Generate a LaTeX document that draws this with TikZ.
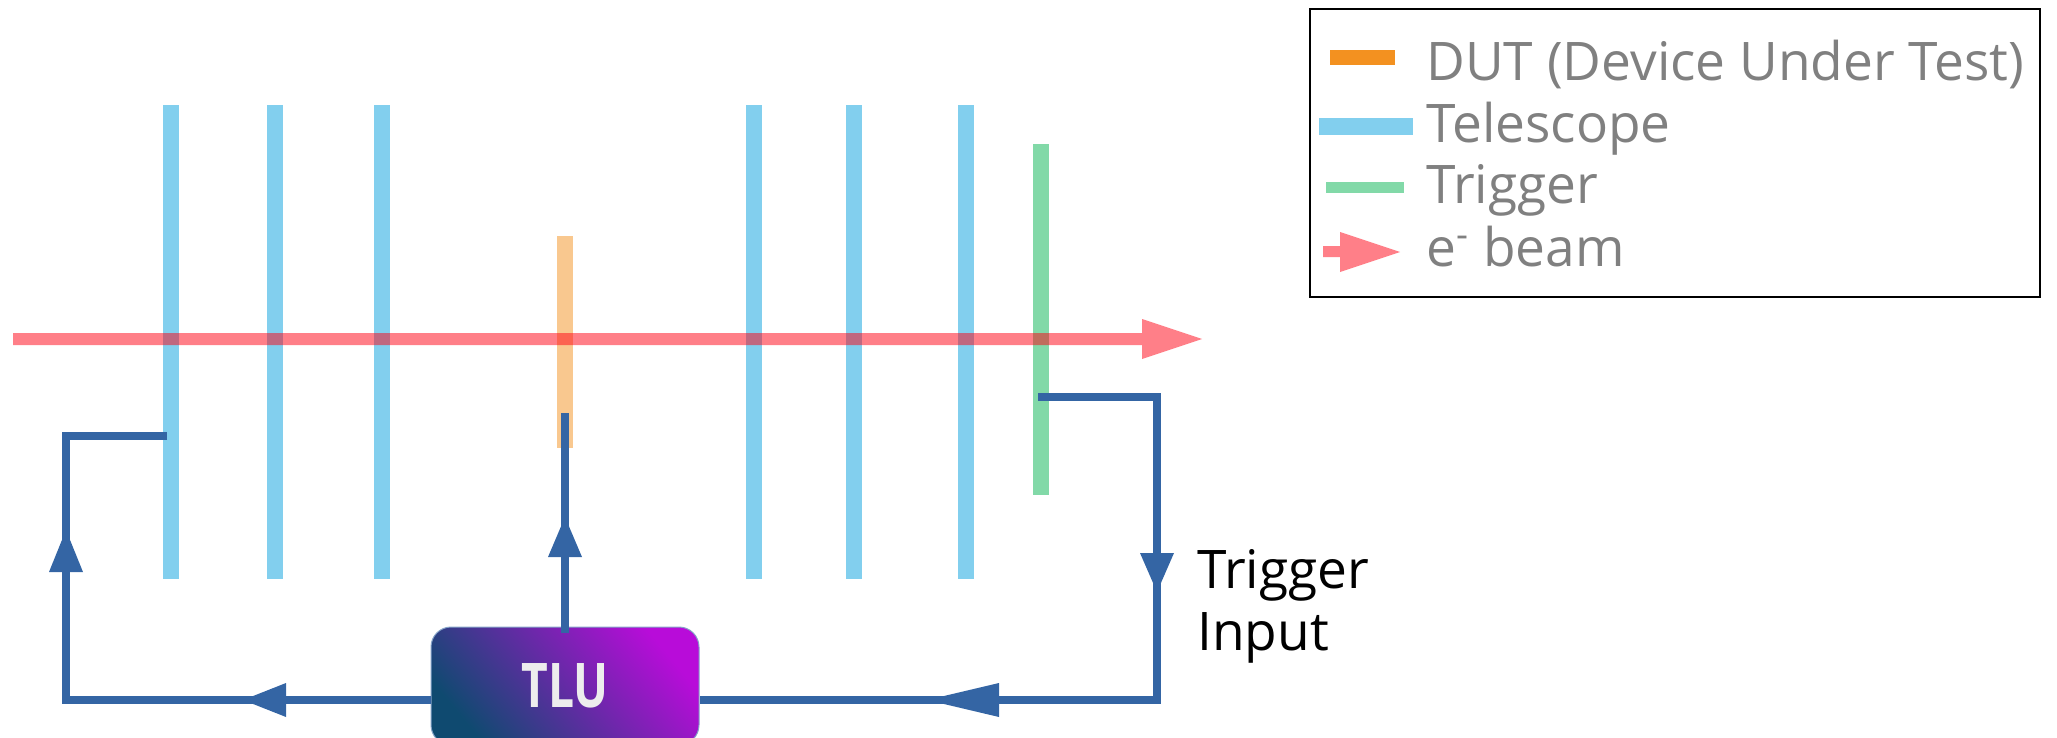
\documentclass[tikz,border=0pt]{standalone}
\usepackage{fontspec}
\setmainfont{Open Sans}
\definecolor{wire}{HTML}{3465A4}
\definecolor{telc}{HTML}{82CFEE}
\definecolor{trgc}{HTML}{82D9A8}
\definecolor{dutc}{HTML}{F39120}
\definecolor{beamc}{HTML}{FF0012}
\definecolor{legtxt}{HTML}{808080}
\definecolor{tluA}{HTML}{0F4A70}
\definecolor{tluB}{HTML}{B80CD9}
\tikzset{
  plane/.style={rectangle, inner sep=0pt, minimum width=8pt},
  telplane/.style={plane, fill=telc},
  trgplane/.style={plane, fill=trgc},
  dutplane/.style={plane, fill=dutc, fill opacity=0.5},
  wire/.style={draw=wire, line width=4pt},
  whead/.style={fill=wire},
  beam/.style={fill=beamc, fill opacity=0.5},
  legtext/.style={inner sep=0pt, anchor=base west, text=legtxt, font=\fontsize{26.6}{32}\selectfont},
  lbl/.style={inner sep=0pt, anchor=base west, text=black, font=\fontsize{26.6}{32}\selectfont},
  tlubox/.style={rectangle, rounded corners=10pt, inner sep=0pt, top color=tluB, bottom color=tluA, shading angle=-50, draw=wire!60, line width=0.5pt, text=white!93!black, font=\fontsize{30.8}{36}\bfseries\selectfont}
}
\begin{document}
\begin{tikzpicture}[x=0.5pt,y=-0.5pt]
\useasboundingbox (0,0) rectangle (2057,738);
\clip (0,0) rectangle (2057,738);
% planes
\node[telplane, minimum height=237pt] (t1) at (171,342) {};
\node[telplane, minimum height=237pt] (t2) at (275,342) {};
\node[telplane, minimum height=237pt] (t3) at (382,342) {};
\node[telplane, minimum height=237pt] (t4) at (754,342) {};
\node[telplane, minimum height=237pt] (t5) at (854,342) {};
\node[telplane, minimum height=237pt] (t6) at (966,342) {};
\node[trgplane, minimum height=175.5pt] (trg) at (1041,319.5) {};
\node[dutplane, minimum height=106pt] (dut) at (564.5,342) {};
% connectors
\coordinate (a1) at (167,436);
\coordinate (a2) at (66,700);
\coordinate (b1) at (1038,397);
\coordinate (b2) at (1157,700);
\coordinate (c1) at (565,413);
\node[tlubox, minimum width=134pt, minimum height=59pt] (tlu) at (565,686) {\scalebox{0.75}[1]{TLU}};
\draw[wire] (a1) -| (a2) -- (tlu.west |- a2);
\draw[wire] (b1) -| (b2) -- (tlu.east |- b2);
\draw[wire] ([yshift=-3pt]tlu.north) -- (c1);
% arrowheads
\fill[whead] (66,530) -- (49,572) -- (83,572) -- cycle;
\fill[whead] (243,700) -- (286,683) -- (286,717) -- cycle;
\fill[whead] (565,517) -- (548,557) -- (582,557) -- cycle;
\fill[whead] (1157,592) -- (1140,553) -- (1174,553) -- cycle;
\fill[whead] (927,700) -- (999,683) -- (999,717) -- cycle;
% beam
\fill[beam] (13,333) -- (1142,333) -- (1142,319) -- (1202,339) -- (1142,359) -- (1142,345) -- (13,345) -- cycle;
\coordinate (beamtip) at (1202,339);
% label
\node[lbl] (ti1) at (1197,588) {Trigger};
\node[lbl] (ti2) at (1197,650) {Input};
% legend
\node[draw=black, line width=0.75pt, minimum width=365pt, minimum height=144pt, inner sep=0pt] (legend) at (1675,153) {};
\fill[dutc] (1330,50) rectangle (1395,65);
\fill[telc] (1319,118) rectangle (1413,135);
\fill[trgc] (1326,182) rectangle (1404,193);
\fill[beam] (1323,246) -- (1340,246) -- (1340,232) -- (1400,252) -- (1340,272) -- (1340,257) -- (1323,257) -- cycle;
\node[legtext] (l1) at (1426,81) {DUT (Device Under Test)};
\node[legtext] (l2) at (1426,143) {Telescope};
\node[legtext] (l3) at (1426,204) {Trigger};
\node[legtext] (l4) at (1426,266) {e\textsuperscript{-} beam};
\end{tikzpicture}
\end{document}
